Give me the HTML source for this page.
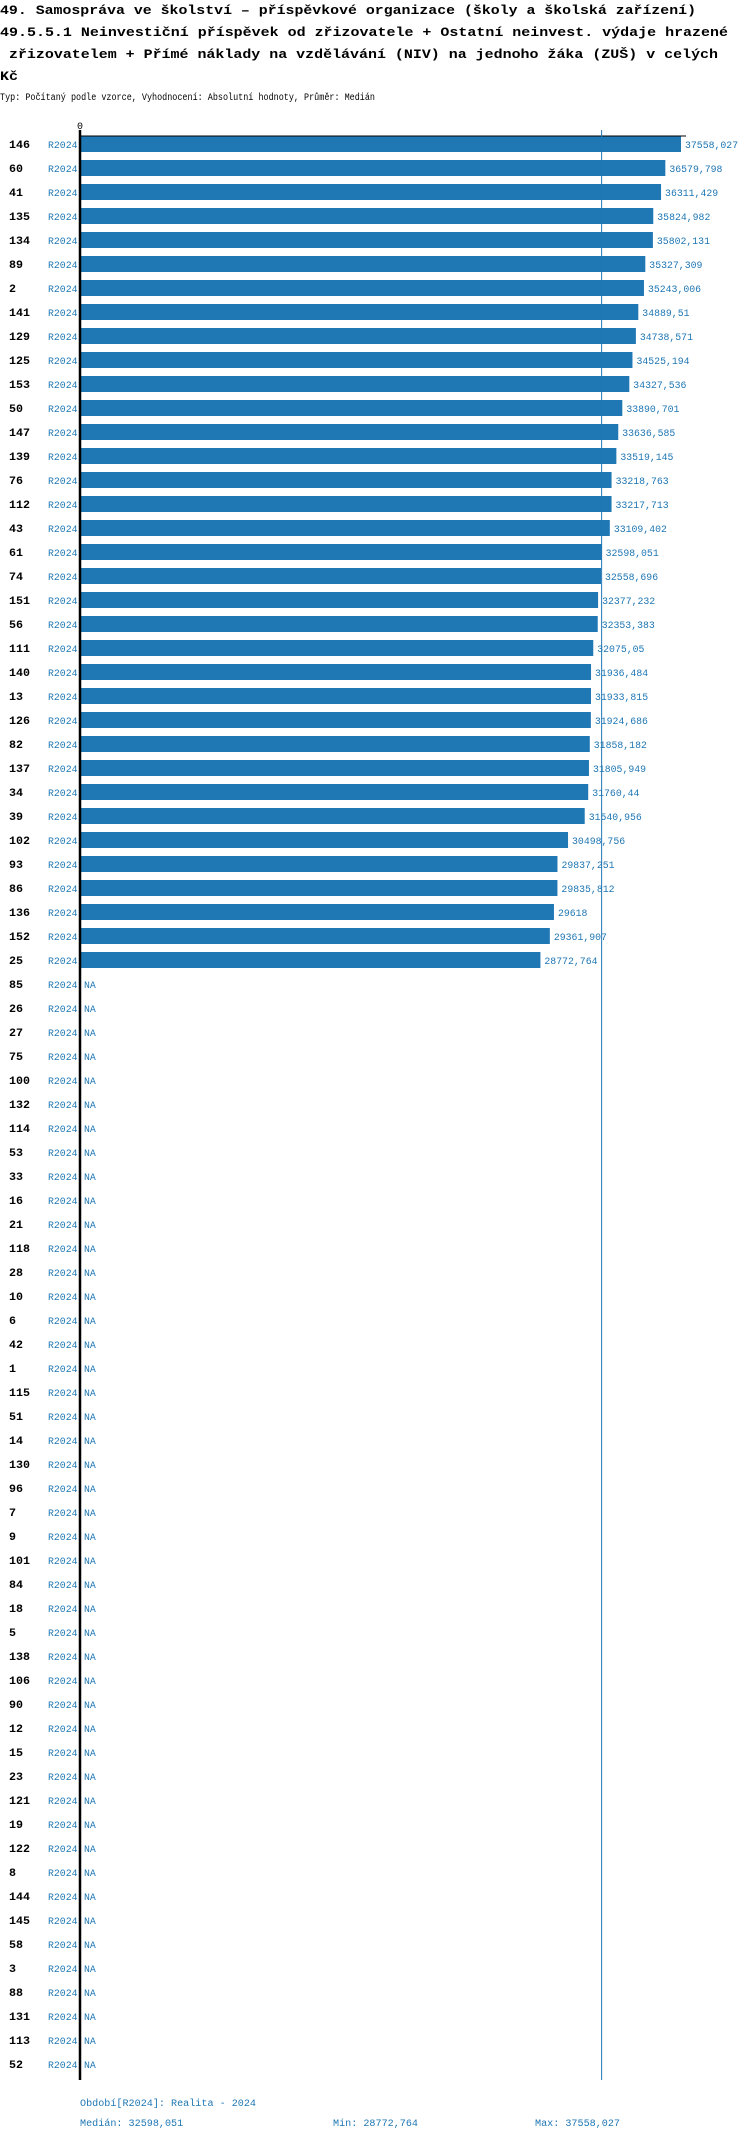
<!DOCTYPE html>
<html><head><meta charset="utf-8"><style>
html,body{margin:0;padding:0;background:#fff;width:750px;height:2140px;overflow:hidden}
svg text{font-family:"Liberation Mono","DejaVu Sans Mono",monospace}
.t{font-weight:bold;font-size:13px;fill:#000}
.s{font-size:10px;fill:#000}
.id{font-weight:bold;font-size:11px;fill:#000}
.b{font-size:10px;fill:#1f77b4}
</style></head><body>
<svg id="chart" width="750" height="2140" xmlns="http://www.w3.org/2000/svg">
<text class="t" x="0" y="14" textLength="696" lengthAdjust="spacingAndGlyphs">49. Samospráva ve školství – příspěvkové organizace (školy a školská zařízení)</text>
<text class="t" x="0" y="36" textLength="728" lengthAdjust="spacingAndGlyphs">49.5.5.1 Neinvestiční příspěvek od zřizovatele + Ostatní neinvest. výdaje hrazené</text>
<text class="t" x="0" y="58" textLength="718" lengthAdjust="spacingAndGlyphs" xml:space="preserve"> zřizovatelem + Přímé náklady na vzdělávání (NIV) na jednoho žáka (ZUŠ) v celých</text>
<text class="t" x="0" y="80" textLength="18" lengthAdjust="spacingAndGlyphs">Kč</text>
<text class="s" x="0" y="100" textLength="375" lengthAdjust="spacingAndGlyphs">Typ: Počítaný podle vzorce, Vyhodnocení: Absolutní hodnoty, Průměr: Medián</text>
<text class="s" x="77" y="129">0</text>
<g id="rows"></g>
<line x1="80" y1="136" x2="686" y2="136" stroke="#000" stroke-width="1"/>
<line x1="80" y1="130" x2="80" y2="2080" stroke="#000" stroke-width="2.5"/>
<line id="med" x1="600" y1="130" x2="600" y2="2080" stroke="#1f77b4" stroke-width="1"/>
<text class="b" x="80" y="2106" textLength="176" lengthAdjust="spacingAndGlyphs">Období[R2024]: Realita - 2024</text>
<text id="fmed" class="b" x="80" y="2126"></text>
<text id="fmin" class="b" x="333" y="2126"></text>
<text id="fmax" class="b" x="535" y="2126"></text>
</svg>
<script>
const ids=["146","60","41","135","134","89","2","141","129","125","153","50","147","139","76","112","43","61","74","151","56","111","140","13","126","82","137","34","39","102","93","86","136","152","25","85","26","27","75","100","132","114","53","33","16","21","118","28","10","6","42","1","115","51","14","130","96","7","9","101","84","18","5","138","106","90","12","15","23","121","19","122","8","144","145","58","3","88","131","113","52"];
const values=[37558.027,36579.798,36311.429,35824.982,35802.131,35327.309,35243.006,34889.51,34738.571,34525.194,34327.536,33890.701,33636.585,33519.145,33218.763,33217.713,33109.402,32598.051,32558.696,32377.232,32353.383,32075.05,31936.484,31933.815,31924.686,31858.182,31805.949,31760.44,31540.956,30498.756,29837.251,29835.812,29618,29361.907,28772.764];
const period="R2024";
const medianValue=32598.051;
const NS="http://www.w3.org/2000/svg";
const x0=80,x1=681,rowTop=136,pitch=24,barH=16;
const vmax=Math.max(...values),vmin=Math.min(...values);
function xs(v){return x0+(v/vmax)*(x1-x0);}
function fmt(v){return String(Math.round(v*1000)/1000).replace('.',',');}
const g=document.getElementById('rows');
function txt(cls,x,y,s){const t=document.createElementNS(NS,'text');t.setAttribute('class',cls);t.setAttribute('x',x);t.setAttribute('y',y);t.textContent=s;t.setAttribute('textLength',(s.length*(cls==='id'?7:5.9)).toFixed(1));t.setAttribute('lengthAdjust','spacingAndGlyphs');g.appendChild(t);return t;}
ids.forEach((id,i)=>{
  const y=rowTop+i*pitch;
  const base=y+12;
  const a=txt('id',9,base,id);
  
  
  const p=txt('b',48,base,period);
  
  
  const v=values[i];
  if(v!==undefined){
    const r=document.createElementNS(NS,'rect');
    r.setAttribute('x',x0);r.setAttribute('y',y);r.setAttribute('width',xs(v)-x0);r.setAttribute('height',barH);r.setAttribute('fill','#1f77b4');
    
    
    g.appendChild(r);
    const l=txt('b',xs(v)+4,base,fmt(v));
    
    
  } else {
    const l=txt('b',84,base,'NA');
    
    
  }
});
const m=document.getElementById('med');m.setAttribute('x1',xs(medianValue));m.setAttribute('x2',xs(medianValue));
function foot(id,s){const e=document.getElementById(id);e.textContent=s;e.setAttribute('textLength',(s.length*6.07).toFixed(1));e.setAttribute('lengthAdjust','spacingAndGlyphs');}
foot('fmed','Medián: '+fmt(medianValue));
foot('fmin','Min: '+fmt(vmin));
foot('fmax','Max: '+fmt(vmax));
</script>
</body></html>
